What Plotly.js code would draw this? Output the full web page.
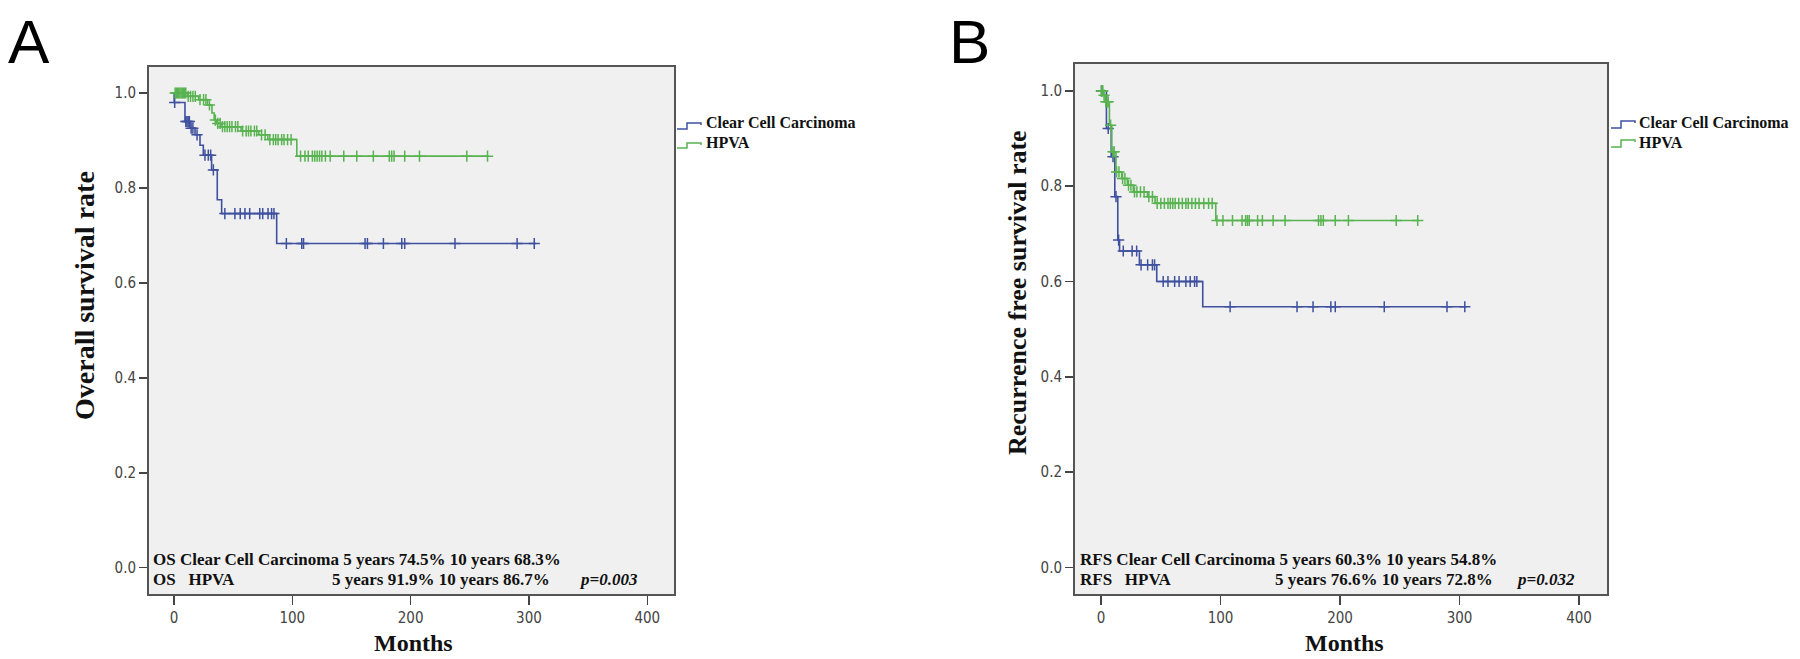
<!DOCTYPE html>
<html>
<head>
<meta charset="utf-8">
<script src="https://cdn.plot.ly/plotly-3.0.1.min.js"></script>
<style>html,body{margin:0;padding:0;background:#fff;}#chart{width:1800px;height:659px;}</style>
</head>
<body>
<div id="chart"></div>
<script>
// ---------- DATA ----------
// Panel A: Overall survival (Kaplan-Meier step points: time in months, survival)
const A_ccc_t = [0, 0.2, 9.3, 13.5, 17.8, 22, 24.8, 31.8, 36.6, 40.3, 86.8, 306];
const A_ccc_s = [1.0, 0.980, 0.940, 0.926, 0.912, 0.890, 0.869, 0.838, 0.775, 0.746, 0.683, 0.683];
const A_ccc_cens = [0.6, 10, 11, 12, 13, 14.5, 16, 19.5, 26.2, 29, 31, 33.3, 43, 51.5, 56, 60, 64, 72.5, 75, 79.5, 82.5, 84.5, 95, 108, 109.5, 161.5, 163.5, 177, 192.5, 195, 237.5, 290, 304.5];

const A_hpva_t = [0, 11.4, 20.9, 28.4, 32.1, 34, 36, 39.7, 56.7, 71.7, 79.3, 103.8, 266];
const A_hpva_s = [1.0, 0.993, 0.986, 0.975, 0.958, 0.943, 0.936, 0.929, 0.920, 0.912, 0.902, 0.867, 0.867];
const A_hpva_cens = [1, 2, 3, 4, 5, 6, 7, 8, 9, 10, 12, 14, 16, 18, 22, 25, 27, 30, 35, 37, 39, 41, 43, 45, 47, 49, 52, 54, 58, 61, 63, 65, 68, 70, 74, 77, 81, 84, 86, 88, 91, 93, 96, 99, 107, 110.7, 113.5, 117, 119, 121, 123, 125, 128, 132, 143.5, 154.5, 168.5, 182, 184, 186, 195, 207.5, 247.5, 265];

// Panel B: Recurrence free survival
const B_ccc_t = [0, 4.5, 8.5, 11.5, 14, 15.5, 32.1, 46.6, 85.1, 306];
const B_ccc_s = [1.0, 0.921, 0.862, 0.778, 0.687, 0.664, 0.635, 0.600, 0.547, 0.547];
const B_ccc_cens = [0.3, 6, 10, 12.5, 14.7, 18.6, 26, 29.8, 33.5, 39, 43, 44.8, 52, 56, 61.6, 65.3, 71, 74.6, 78.3, 80.2, 108, 164, 177.4, 192.3, 196, 237, 289.5, 304.4];

const B_hpva_t = [0, 2, 3.3, 7, 9, 12.5, 17.3, 22, 27, 38.8, 45.2, 96, 266];
const B_hpva_s = [1.0, 0.991, 0.977, 0.928, 0.872, 0.830, 0.816, 0.802, 0.788, 0.778, 0.764, 0.728, 0.728];
const B_hpva_cens = [0.5, 1, 1.5, 2.5, 4, 5, 6, 8, 10, 11, 13, 15, 18, 20, 23, 25, 28, 30, 33, 36, 40, 43, 47, 50, 53, 56, 58, 60, 62, 65, 68, 71, 73, 76, 79, 82, 86, 90, 93, 97, 102, 110, 118, 121, 122.5, 124, 131, 135, 144, 154, 182, 184, 186, 196, 207, 247, 265];

const groupNames = ["Clear Cell Carcinoma", "HPVA"];
const xTicks = [0, 100, 200, 300, 400];
const yTicks = [0.0, 0.2, 0.4, 0.6, 0.8, 1.0];
const panelTitles = ["A", "B"];
const yTitles = ["Overall survival rate", "Recurrence free survival rate"];
const xTitle = "Months";
const A_notes = ["OS Clear Cell Carcinoma 5 years 74.5% 10 years 68.3%", "OS\u00a0\u00a0\u00a0HPVA", "5 years 91.9% 10 years 86.7%", "p=0.003"];
const B_notes = ["RFS Clear Cell Carcinoma 5 years 60.3% 10 years 54.8%", "RFS\u00a0\u00a0\u00a0HPVA", "5 years 76.6% 10 years 72.8%", "p=0.032"];

// ---------- STYLE ----------
const W = 1800, H = 659;
const BLUE = "#3f509f", GREEN = "#58b350";
const SERIF = "Liberation Serif, Times New Roman, serif";
const NARROW = "Liberation Sans Narrow, DejaVu Sans Condensed, Liberation Sans, Arial, sans-serif";
const px = v => v / W;
const py = v => 1 - v / H;

function stepAt(ts, ss, t) {
  let v = ss[0];
  for (let i = 0; i < ts.length; i++) { if (ts[i] <= t) v = ss[i]; }
  return v;
}

function curve(ts, ss, cens, color, xa, ya) {
  return [
    {x: ts, y: ss, type: "scatter", mode: "lines", line: {shape: "hv", color: color, width: 1.6},
     xaxis: xa, yaxis: ya, showlegend: false, hoverinfo: "skip"},
    {x: cens, y: cens.map(t => stepAt(ts, ss, t)), type: "scatter", mode: "markers",
     marker: {symbol: "cross-thin", size: 8, color: color, line: {color: color, width: 1.5}},
     xaxis: xa, yaxis: ya, showlegend: false, hoverinfo: "skip"}
  ];
}

const data = [].concat(
  curve(A_ccc_t, A_ccc_s, A_ccc_cens, BLUE, "x", "y"),
  curve(A_hpva_t, A_hpva_s, A_hpva_cens, GREEN, "x", "y"),
  curve(B_ccc_t, B_ccc_s, B_ccc_cens, BLUE, "x2", "y2"),
  curve(B_hpva_t, B_hpva_s, B_hpva_cens, GREEN, "x2", "y2")
);

function xaxisDef(dom, rng) {
  return {domain: dom, range: rng, tickvals: xTicks, ticktext: xTicks.map(String),
    ticks: "outside", ticklen: 9, tickwidth: 1.5, tickcolor: "#444",
    showline: true, linecolor: "#555", linewidth: 2, mirror: true,
    showgrid: false, zeroline: false, fixedrange: true,
    tickfont: {family: NARROW, size: 15, color: "#444"}};
}
function yaxisDef(dom, rng, anchor) {
  return {domain: dom, range: rng, anchor: anchor, tickvals: yTicks, ticktext: yTicks.map(v => v.toFixed(1)),
    ticks: "outside", ticklen: 8, tickwidth: 1.5, tickcolor: "#444",
    showline: true, linecolor: "#555", linewidth: 2, mirror: true,
    showgrid: false, zeroline: false, fixedrange: true,
    tickfont: {family: NARROW, size: 15, color: "#444"}};
}

const txt = (text, x, y, opts) => Object.assign({
  text: text, x: px(x), y: py(y), xref: "paper", yref: "paper", showarrow: false,
  xanchor: "left", yanchor: "middle", font: {family: SERIF, size: 17, color: "#111", weight: "bold"}
}, opts || {});

const LETTER = {family: "Liberation Sans, Arial, sans-serif", size: 62, color: "#000"};
const annotations = [
  txt(panelTitles[0], 29, 41, {xanchor: "center", font: LETTER}),
  txt(panelTitles[1], 969, 41, {xanchor: "center", font: LETTER}),
  txt(yTitles[0], 85, 296, {xanchor: "center", textangle: -90, font: {family: SERIF, size: 28, color: "#111", weight: "bold"}}),
  txt(yTitles[1], 1018, 293, {xanchor: "center", textangle: -90, font: {family: SERIF, size: 26, color: "#111", weight: "bold"}}),
  txt(xTitle, 413, 643, {xanchor: "center", font: {family: SERIF, size: 24, color: "#111", weight: "bold"}}),
  txt(xTitle, 1344, 643, {xanchor: "center", font: {family: SERIF, size: 24, color: "#111", weight: "bold"}}),
  // Panel A notes
  txt(A_notes[0], 151, 559),
  txt(A_notes[1], 151, 579),
  txt(A_notes[2], 330, 579),
  txt(A_notes[3], 577, 579, {font: {family: SERIF, size: 17, color: "#111", weight: "bold", style: "italic"}}),
  // Panel B notes
  txt(B_notes[0], 1078, 559),
  txt(B_notes[1], 1078, 579),
  txt(B_notes[2], 1273, 579),
  txt(B_notes[3], 1514, 579, {font: {family: SERIF, size: 17, color: "#111", weight: "bold", style: "italic"}}),
  // Legends
  txt(groupNames[0], 704, 122, {font: {family: SERIF, size: 16, color: "#111", weight: "bold"}}),
  txt(groupNames[1], 704, 142, {font: {family: SERIF, size: 16, color: "#111", weight: "bold"}}),
  txt(groupNames[0], 1637, 122, {font: {family: SERIF, size: 16, color: "#111", weight: "bold"}}),
  txt(groupNames[1], 1637, 142, {font: {family: SERIF, size: 16, color: "#111", weight: "bold"}})
];

function icon(x0, yLow, yHigh, color) {
  const p = [[x0, yLow], [x0 + 10, yLow], [x0 + 10, yHigh], [x0 + 24, yHigh], [x0 + 24, yHigh + 2]];
  return {type: "path", xref: "paper", yref: "paper",
    path: "M" + p.map(q => px(q[0]) + "," + py(q[1])).join(" L"),
    line: {color: color, width: 1.5}};
}

const layout = {
  width: W, height: H, margin: {l: 0, r: 0, t: 0, b: 0},
  paper_bgcolor: "#ffffff", plot_bgcolor: "#f0f0f0", showlegend: false,
  xaxis: xaxisDef([px(149), px(674)], [-21.1, 422.6]),
  yaxis: yaxisDef([py(594), py(67)], [-0.0554, 1.0548], "x"),
  xaxis2: Object.assign(xaxisDef([px(1075), px(1607)], [-21.8, 423.4]), {anchor: "y2"}),
  yaxis2: yaxisDef([py(594), py(64)], [-0.0558, 1.0564], "x2"),
  annotations: annotations,
  shapes: [
    icon(677, 129, 123, BLUE), icon(677, 148, 143, GREEN),
    icon(1611, 128, 121, BLUE), icon(1611, 147, 140, GREEN)
  ]
};
layout.xaxis.anchor = "y";

Plotly.newPlot("chart", data, layout, {displayModeBar: false, staticPlot: true});
</script>
</body>
</html>
